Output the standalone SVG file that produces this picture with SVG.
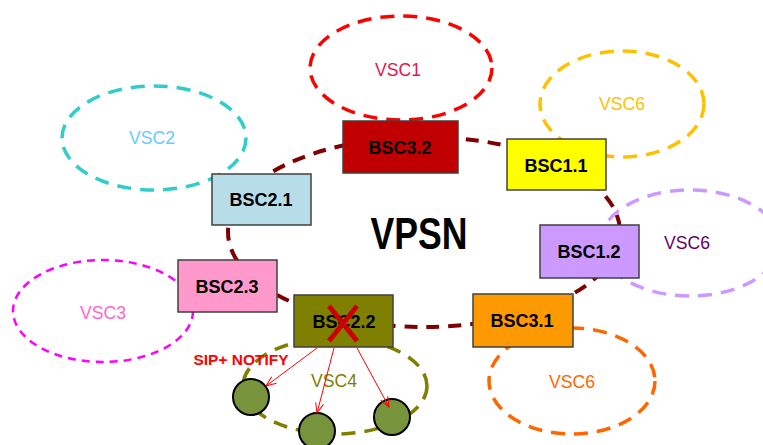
<svg xmlns="http://www.w3.org/2000/svg" width="763" height="445" viewBox="0 0 763 445">
<style>
.vsc{fill:none;stroke-width:3.5;stroke-dasharray:14 9}
.box{stroke:#404040;stroke-width:1.5}
.bl{font-family:"Liberation Sans",Arial,sans-serif;font-weight:bold;font-size:19px;fill:#000;text-anchor:middle}
.vl{font-family:"Liberation Sans",Arial,sans-serif;font-size:19px;text-anchor:middle}
.arr{stroke:#ff0000;stroke-width:1;fill:none;marker-end:url(#ah)}
.dev{fill:#77933c;stroke:#000;stroke-width:2}
</style>
<defs>
<marker id="ah" markerWidth="12" markerHeight="10" refX="11" refY="5" orient="auto" markerUnits="userSpaceOnUse">
<path d="M1,1 L11,5 L1,9" fill="none" stroke="#ff0000" stroke-width="1"/>
</marker>
</defs>
<rect width="763" height="445" fill="#fff"/>
<g id="vsc1"><ellipse class="vsc" cx="401" cy="68" rx="91" ry="52" stroke="#ff0000"/><text class="vl" x="398" y="76" fill="#e0184a" textLength="46" lengthAdjust="spacingAndGlyphs">VSC1</text></g>
<g id="vsc6a"><ellipse class="vsc" cx="622" cy="104" rx="82" ry="53" stroke="#ffc000"/><text class="vl" x="622" y="110" fill="#ffc000" textLength="46" lengthAdjust="spacingAndGlyphs">VSC6</text></g>
<g id="vsc2"><ellipse class="vsc" cx="154" cy="138" rx="92" ry="52" stroke="#33cccc"/><text class="vl" x="152" y="144" fill="#66ccff" textLength="46" lengthAdjust="spacingAndGlyphs">VSC2</text></g>
<g id="vsc3"><ellipse cx="103" cy="311" rx="90" ry="51" fill="none" stroke="#ff00ff" stroke-width="2.5" stroke-dasharray="8 6"/><text class="vl" x="103" y="319" fill="#ff66cc" textLength="46" lengthAdjust="spacingAndGlyphs">VSC3</text></g>
<g id="vsc6b"><ellipse class="vsc" cx="690" cy="243" rx="90" ry="53" stroke="#cc99ff"/><text class="vl" x="687" y="249" fill="#660066" textLength="46" lengthAdjust="spacingAndGlyphs">VSC6</text></g>
<g id="vsc6c"><ellipse class="vsc" cx="572" cy="381" rx="83" ry="53" stroke="#ff6600"/><text class="vl" x="572" y="388" fill="#ff6600" textLength="46" lengthAdjust="spacingAndGlyphs">VSC6</text></g>
<g id="vsc4"><ellipse class="vsc" cx="335" cy="386" rx="92" ry="48" stroke="#808000"/><text class="vl" x="334" y="387" fill="#808000" textLength="46" lengthAdjust="spacingAndGlyphs">VSC4</text></g>
<g id="connectors">
<ellipse cx="424" cy="232" rx="196" ry="95" fill="none" stroke="#7f0000" stroke-width="4" stroke-dasharray="13 9"/>
</g>
<g id="vpsn"><text x="419" y="249" font-family="'Liberation Sans',Arial,sans-serif" font-weight="bold" font-size="44" text-anchor="middle" textLength="97" lengthAdjust="spacingAndGlyphs">VPSN</text></g>
<g id="bsc32"><rect class="box" x="343" y="121" width="115" height="52" fill="#c00000"/><text class="bl" x="400" y="154" textLength="63" lengthAdjust="spacingAndGlyphs">BSC3.2</text></g>
<g id="bsc11"><rect class="box" x="507" y="139" width="99" height="51" fill="#ffff00"/><text class="bl" x="556" y="172" textLength="63" lengthAdjust="spacingAndGlyphs">BSC1.1</text></g>
<g id="bsc21"><rect class="box" x="212" y="174" width="99" height="51" fill="#b7dee8"/><text class="bl" x="261" y="206" textLength="63" lengthAdjust="spacingAndGlyphs">BSC2.1</text></g>
<g id="bsc12"><rect class="box" x="540" y="225" width="99" height="53" fill="#cc99ff"/><text class="bl" x="589" y="258" textLength="63" lengthAdjust="spacingAndGlyphs">BSC1.2</text></g>
<g id="bsc23"><rect class="box" x="178" y="260" width="99" height="52" fill="#ff99cc"/><text class="bl" x="227" y="293" textLength="63" lengthAdjust="spacingAndGlyphs">BSC2.3</text></g>
<g id="bsc31"><rect class="box" x="473" y="294" width="100" height="53" fill="#ff9900"/><text class="bl" x="522" y="327" textLength="63" lengthAdjust="spacingAndGlyphs">BSC3.1</text></g>
<g id="bsc22"><rect class="box" x="294" y="295" width="99" height="52" fill="#808000"/><text class="bl" x="344" y="328" textLength="63" lengthAdjust="spacingAndGlyphs">BSC2.2</text>
<path d="M329,306 L357,341 M357,306 L329,341" stroke="#cc0000" stroke-width="5" fill="none"/></g>
<g id="notify">
<text x="241" y="365" font-family="'Liberation Sans',Arial,sans-serif" font-weight="bold" font-size="14" fill="#ff0000" text-anchor="middle" textLength="95" lengthAdjust="spacingAndGlyphs">SIP+ NOTIFY</text>
</g>
<g id="dev1"><circle class="dev" cx="251" cy="397" r="18"/></g>
<g id="dev2"><circle class="dev" cx="317" cy="431" r="18"/></g>
<g id="dev3"><circle class="dev" cx="392" cy="417" r="18"/></g>
<g id="arrows">
<line class="arr" x1="317" y1="348" x2="266" y2="386"/>
<line class="arr" x1="334" y1="348" x2="317" y2="413"/>
<line class="arr" x1="357" y1="348" x2="389" y2="407"/>
</g>
</svg>
